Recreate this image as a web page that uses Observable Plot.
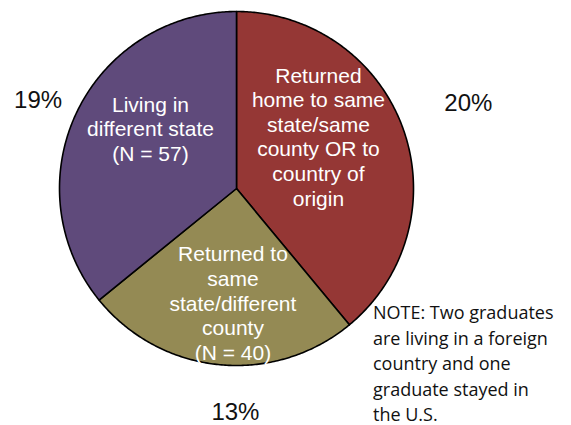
<!DOCTYPE html>
<html>
<head>
<meta charset="utf-8">
<script src="https://cdn.jsdelivr.net/npm/d3@7"></script>
<script src="https://cdn.jsdelivr.net/npm/@observablehq/plot@0.6"></script>
<style>
  html, body { margin: 0; padding: 0; background: #fff; }
  #wrap { position: relative; width: 571px; height: 425px; overflow: hidden; }
  #note {
    position: absolute; left: 373px; top: 300px; width: 198px;
    font-family: "Open Sans", "Liberation Sans", sans-serif; font-size: 18px;
    line-height: 25.5px; color: #111; white-space: nowrap;
  }
</style>
</head>
<body>
<div id="wrap">
  <div id="chart"></div>
  <div id="note">NOTE: Two graduates<br>are living in a foreign<br>country and one<br>graduate stayed in<br>the U.S.</div>
</div>
<script>
// ---- data ----
const categories = [
  "Returned home to same state/same county OR to country of origin",
  "Returned to same state/different county",
  "Living in different state"
];
const counts = [62, 40, 57];
const percentLabels = ["20%", "13%", "19%"];
const sliceLabels = [
  "Returned\nhome to same\nstate/same\ncounty OR to\ncountry of\norigin",
  "Returned to\nsame\nstate/different\ncounty\n(N = 40)",
  "Living in\ndifferent state\n(N = 57)"
];
const sliceColors = ["#953735", "#948A54", "#5F4A7B"];

// ---- layout (radius units) ----
const innerLabelPos = [[0.463, 0.295], [-0.02, -0.645], [-0.486, 0.34]];
const outerLabelPos = [[1.31, 0.48], [-0.006, -1.262], [-1.121, 0.497]];

// ---- pie geometry from data ----
const arcs = d3.pie().sort(null).value(d => d.count)(
  categories.map((c, i) => ({category: c, count: counts[i], color: sliceColors[i]}))
);
const slicePaths = arcs.map(a => {
  const pts = [{x: 0, y: 0}];
  const n = Math.max(2, Math.ceil((a.endAngle - a.startAngle) / 0.01));
  for (let k = 0; k <= n; k++) {
    const t = a.startAngle + (a.endAngle - a.startAngle) * k / n;
    pts.push({x: Math.sin(t), y: Math.cos(t)});
  }
  pts.push({x: 0, y: 0});
  return {pts, color: a.data.color};
});

const inner = sliceLabels.map((t, i) => ({text: t, x: innerLabelPos[i][0], y: innerLabelPos[i][1]}));
const outer = percentLabels.map((t, i) => ({text: t, x: outerLabelPos[i][0], y: outerLabelPos[i][1]}));

const font = "'Liberation Sans', Arial, sans-serif";

const chart = Plot.plot({
  width: 571,
  height: 425,
  marginLeft: 59,
  marginRight: 158,
  marginTop: 11,
  marginBottom: 60,
  style: {fontFamily: font, background: "#fff"},
  x: {domain: [-1, 1], axis: null},
  y: {domain: [-1, 1], axis: null},
  marks: [
    ...slicePaths.map(s => Plot.line(s.pts, {
      x: "x", y: "y", fill: s.color, stroke: "#000", strokeWidth: 1.6, strokeLinejoin: "round", curve: "linear"
    })),
    Plot.text(inner, {
      x: "x", y: "y", text: "text", fill: "#fff", fontSize: 21, lineHeight: 1.17,
      lineAnchor: "middle", textAnchor: "middle", fontFamily: font
    }),
    Plot.text(outer, {
      x: "x", y: "y", text: "text", fill: "#111", fontSize: 24,
      lineAnchor: "middle", textAnchor: "middle", fontFamily: font
    })
  ]
});
document.getElementById("chart").appendChild(chart);
</script>
</body>
</html>
